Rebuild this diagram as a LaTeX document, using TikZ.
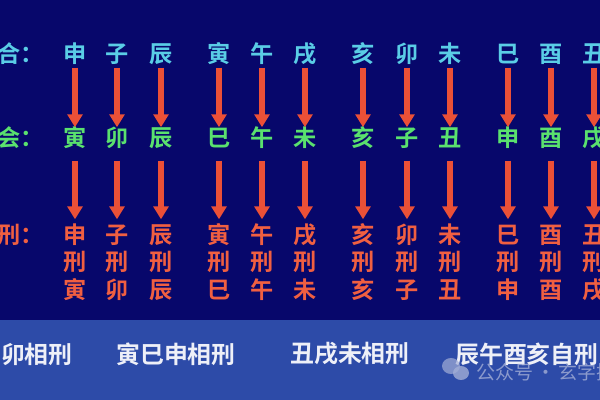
\documentclass[tikz,border=0pt]{standalone}
\usepackage{fontspec}
\usepackage{tikz}
\usetikzlibrary{arrows.meta}
\newfontfamily\cjk{Noto Sans CJK SC}[BoldFont={Noto Sans CJK SC Bold}]
\definecolor{navy}{HTML}{07076B}
\definecolor{band}{HTML}{2D4BA8}
\definecolor{hecol}{HTML}{5ACDE6}
\definecolor{huicol}{HTML}{5AE16E}
\definecolor{xingcol}{HTML}{F05F41}
\definecolor{arrowred}{HTML}{EB5037}
\definecolor{bandtext}{HTML}{EEF0F8}
\definecolor{markgrey}{HTML}{A3AED6}

\begin{document}
\begin{tikzpicture}[x=0.025cm, y=-0.025cm,
  zhi/.style={inner sep=0pt, font=\cjk\bfseries\fontsize{16.5}{16.5}\selectfont, text height=0.88em, text depth=0.12em},
  he/.style={zhi, text=hecol},
  hui/.style={zhi, text=huicol},
  xing/.style={zhi, text=xingcol},
  redarrow/.style={draw=arrowred, line width=3.6pt, -{Triangle[width=10.6pt,length=9.2pt]}},
  bandlabel/.style={inner sep=0pt, font=\cjk\bfseries\fontsize{17}{17}\selectfont, text=bandtext}]
\useasboundingbox (0,0) rectangle (600,400);
\clip (0,0) rectangle (600,400);
\fill[navy] (0,0) rectangle (600,320);
\fill[band] (0,320) rectangle (600,400);
\node[he, anchor=west] (hetitle) at (-3,57) {合：};
\node[hui, anchor=west] (huititle) at (-3,141) {会：};
\node[xing, anchor=west] (xingtitle) at (-3,238) {刑：};
\foreach \x/\a/\b [count=\i] in {75/申/寅, 117/子/卯, 161/辰/辰, 219/寅/巳, 262/午/午, 305/戌/未,
    363/亥/亥, 407/卯/子, 450/未/丑, 508/巳/申, 551/酉/酉, 594/丑/戌} {
  \node[he] (h\i) at (\x,57) {\a};
  \node[hui] (u\i) at (\x,141) {\b};
  \node[xing] (x\i) at (\x,238) {\a};
  \node[xing] (k\i) at (\x,265) {刑};
  \node[xing] (y\i) at (\x,293) {\b};
  \draw[redarrow, shorten <=2.4pt, shorten >=4.6pt] (h\i) -- (u\i);
  \draw[redarrow, shorten <=8.8pt, shorten >=8.1pt] (u\i) -- (x\i);
}
\node[bandlabel, anchor=east] (zimao) at (73,354) {子卯相刑};
\node[bandlabel] (yinsishen) at (176,354) {寅巳申相刑};
\node[bandlabel] (chouxuwei) at (350,354) {丑戌未相刑};
\node[bandlabel, anchor=west] (zixing) at (455,354) {辰午酉亥自刑};
\fill[markgrey, opacity=0.7] (451,366) ellipse (9 and 8);
\fill[markgrey, opacity=0.8] (461,373) ellipse (8 and 7);
\node[inner sep=0pt, anchor=west, font=\cjk\fontsize{13.5}{13.5}\selectfont, text=markgrey, opacity=0.8] (watermark) at (476,372) {公众号\,·\,玄字探};
\end{tikzpicture}
\end{document}
